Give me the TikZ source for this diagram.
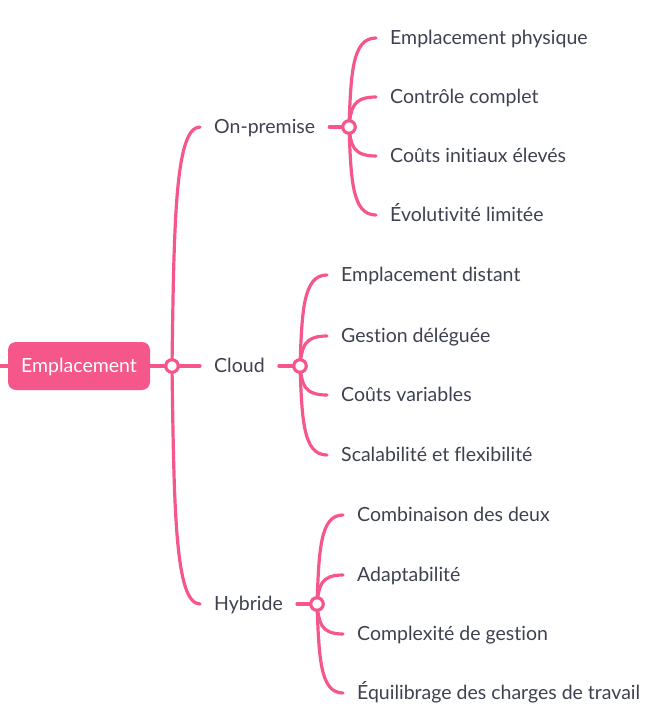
\documentclass[tikz,border=0pt]{standalone}
\usepackage{fontspec}
\setmainfont{Lato}[Ligatures={NoCommon}]
\usetikzlibrary{backgrounds,calc}
\definecolor{pk}{HTML}{F5578B}
\definecolor{tx}{HTML}{3E4150}
\tikzset{
  conn/.style={draw=pk, line width=3.2pt, line cap=round},
  leaf/.style={anchor=west, inner xsep=14pt, inner ysep=0pt, text=tx, font=\fontsize{19.5}{22}\selectfont, text height=15pt, text depth=3pt},
  junc/.style={circle, draw=pk, line width=3.2pt, fill=white, minimum size=12.5pt, inner sep=0pt},
  rootbox/.style={rectangle, rounded corners=8pt, fill=pk, text=white, minimum width=142pt, minimum height=48pt, inner sep=0pt, font=\fontsize{19.5}{22}\selectfont, text height=15pt, text depth=3pt}
}
\newcommand{\branch}[2]{\draw[conn] let \p1=(#1.center), \p2=(#2.west) in (\p1) .. controls (\x1+2pt,{\y1+0.6*(\y2-\y1)}) and (\x1+3pt,\y2) .. (\p2);}
\begin{document}
\begin{tikzpicture}[x=1pt,y=-1pt]
\useasboundingbox (0,0) rectangle (668,728);
% root
\node[rootbox] (root) at (79,366) {Emplacement};
\coordinate (stub) at (0,366);
\node[junc] (j0) at (172,366) {};
% level 1
\node[leaf] (on) at (200,127) {On-premise};
\node[leaf] (cl) at (200,366) {Cloud};
\node[leaf] (hy) at (200,604) {Hybride};
\node[junc] (j1) at (349,127) {};
\node[junc] (j2) at (300,366) {};
\node[junc] (j3) at (317,604) {};
% leaves
\node[leaf] (a1) at (376,38) {Emplacement physique};
\node[leaf] (a2) at (376,97) {Contrôle complet};
\node[leaf] (a3) at (376,156) {Coûts initiaux élevés};
\node[leaf] (a4) at (376,215) {Évolutivité limitée};
\node[leaf] (b1) at (327,275) {Emplacement distant};
\node[leaf] (b2) at (327,336) {Gestion déléguée};
\node[leaf] (b3) at (327,395) {Coûts variables};
\node[leaf] (b4) at (327,455) {Scalabilité et flexibilité};
\node[leaf] (c1) at (343,515) {Combinaison des deux};
\node[leaf] (c2) at (343,575) {Adaptabilité};
\node[leaf] (c3) at (343,634) {Complexité de gestion};
\node[leaf] (c4) at (343,693) {Équilibrage des charges de travail};
\begin{pgfonlayer}{background}
\draw[conn] (stub) -- (root.west);
\draw[conn] (root.east) -- (j0.center);
\branch{j0}{on}\branch{j0}{cl}\branch{j0}{hy}
\draw[conn] (on.east) -- (j1.center);
\draw[conn] (cl.east) -- (j2.center);
\draw[conn] (hy.east) -- (j3.center);
\branch{j1}{a1}\branch{j1}{a2}\branch{j1}{a3}\branch{j1}{a4}
\branch{j2}{b1}\branch{j2}{b2}\branch{j2}{b3}\branch{j2}{b4}
\branch{j3}{c1}\branch{j3}{c2}\branch{j3}{c3}\branch{j3}{c4}
\end{pgfonlayer}
\end{tikzpicture}
\end{document}
